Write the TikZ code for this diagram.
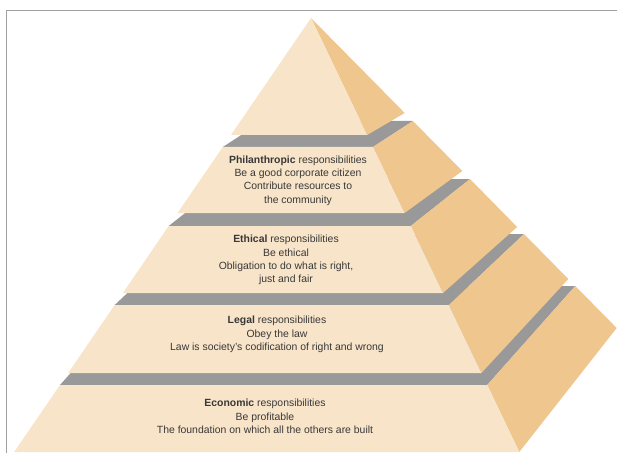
\documentclass[tikz,border=0pt]{standalone}
\usepackage{fontspec}
\setmainfont{Liberation Sans}
\definecolor{frontc}{HTML}{F8E4C9}
\definecolor{sidec}{HTML}{EEC68E}
\definecolor{bandc}{HTML}{999999}
\definecolor{framec}{HTML}{A0A0A0}
\definecolor{txtc}{HTML}{383838}
\tikzset{
  front/.style={fill=frontc, draw=none},
  side/.style={fill=sidec, draw=none},
  band/.style={fill=bandc, draw=none},
  lbl/.style={align=center, text=txtc, font=\fontsize{8.9}{11.4}\selectfont, inner sep=0pt}
}
\begin{document}
\begin{tikzpicture}[x=0.03cm, y=-0.03cm]
\useasboundingbox (0,0) rectangle (617,453);
% frame
\draw[framec, line width=0.8pt] (6,453) -- (6,10) -- (617,10);

% ---- Economic tier ----
\fill[band] (60,385) -- (487.2,385) -- (575.2,286) -- (148,286) -- cycle;
\fill[side] (487.2,385) -- (575.2,286) -- (616.7,328) -- (519.3,452) -- cycle;
\fill[front] (60,385) -- (487.2,385) -- (519.3,452) -- (14.1,452) -- cycle;

% ---- Legal tier ----
\fill[band] (114.7,305) -- (448.8,305) -- (524,234) -- (189.9,234) -- cycle;
\fill[side] (448.8,305) -- (524,234) -- (568.3,279) -- (481.4,373) -- cycle;
\fill[front] (114.7,305) -- (448.8,305) -- (481.4,373) -- (68.2,373) -- cycle;

% ---- Ethical tier ----
\fill[band] (168.7,226) -- (410.8,226) -- (470,179) -- (228.2,179) -- cycle;
\fill[side] (410.8,226) -- (470,179) -- (517.1,227) -- (443,293) -- cycle;
\fill[front] (168.7,226) -- (410.8,226) -- (443,293) -- (122.9,293) -- cycle;

% ---- Philanthropic tier ----
\fill[band] (222.8,147) -- (372.9,147) -- (412.9,121) -- (262.8,121) -- cycle;
\fill[side] (372.9,147) -- (412.9,121) -- (462.3,171) -- (404.6,213) -- cycle;
\fill[front] (222.8,147) -- (372.9,147) -- (404.6,213) -- (177.6,213) -- cycle;

% ---- Apex ----
\fill[side] (311,18) -- (404.7,113) -- (367.2,135) -- cycle;
\fill[front] (311,18) -- (367.2,135) -- (231,135) -- cycle;

% ---- labels ----
\node[lbl] (phil) at (298,180.5) {\textbf{Philanthropic} responsibilities\\Be a good corporate citizen\\Contribute resources to\\the community};
\node[lbl] (eth) at (286,260) {\textbf{Ethical} responsibilities\\Be ethical\\Obligation to do what is right,\\just and fair};
\node[lbl] (leg) at (277,334.5) {\textbf{Legal} responsibilities\\Obey the law\\Law is society's codification of right and wrong};
\node[lbl] (eco) at (265,416.5) {\textbf{Economic} responsibilities\\Be profitable\\The foundation on which all the others are built};
\end{tikzpicture}
\end{document}
